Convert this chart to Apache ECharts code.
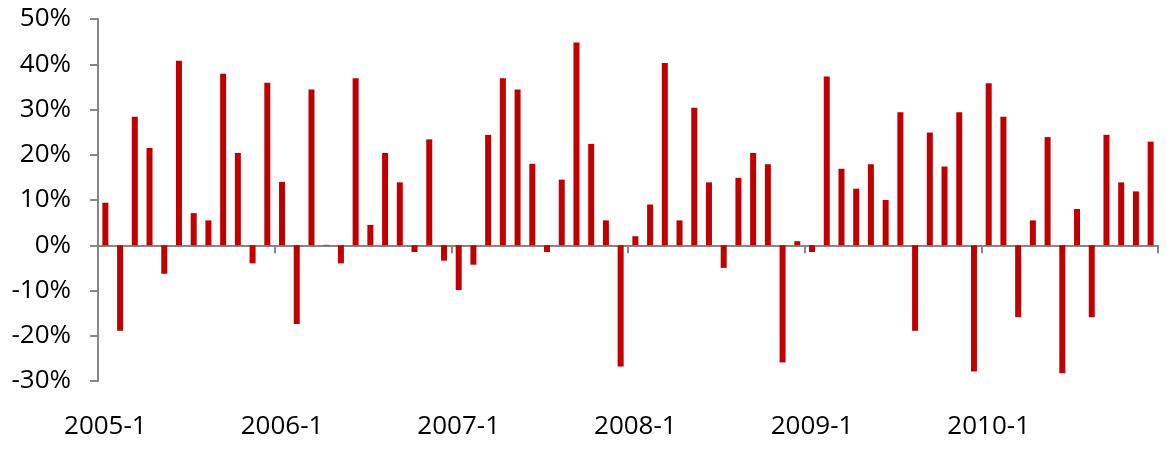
<!DOCTYPE html>
<html>
<head>
<meta charset="utf-8">
<script src="https://cdn.jsdelivr.net/npm/echarts@6/dist/echarts.min.js"></script>
<style>
  html, body { margin: 0; padding: 0; background: #fff; }
  #main { width: 1167px; height: 453px; }
</style>
</head>
<body>
<div id="main"></div>
<script>
// months 2005-1 .. 2010-12
var years = [2005, 2006, 2007, 2008, 2009, 2010];
var months = [];
years.forEach(function (y) {
  for (var m = 1; m <= 12; m++) months.push(y + '-' + m);
});

// monthly change, %
var v2005 = [9.4, -18.9, 28.4, 21.5, -6.3, 40.8, 7.1, 5.5, 37.9, 20.4, -4.0, 35.9];
var v2006 = [14.0, -17.4, 34.4, 0.1, -4.0, 36.9, 4.5, 20.4, 13.9, -1.5, 23.4, -3.4];
var v2007 = [-9.9, -4.3, 24.4, 36.9, 34.4, 18.0, -1.5, 14.5, 44.8, 22.4, 5.5, -26.8];
var v2008 = [2.0, 9.0, 40.3, 5.5, 30.4, 13.9, -5.0, 14.9, 20.4, 17.9, -25.9, 0.9];
var v2009 = [-1.5, 37.3, 16.9, 12.5, 17.9, 10.0, 29.4, -18.9, 24.9, 17.4, 29.4, -27.9];
var v2010 = [35.8, 28.4, -15.9, 5.5, 23.9, -28.3, 8.0, -15.9, 24.4, 13.9, 11.9, 22.9];
var values = [].concat(v2005, v2006, v2007, v2008, v2009, v2010);

var axisGray = '#868686';
var font = '"Open Sans", "DejaVu Sans", sans-serif';

var chart = echarts.init(document.getElementById('main'));
chart.setOption({
  animation: false,
  grid: { left: 98, right: 9, top: 19, bottom: 72, containLabel: false, outerBoundsMode: 'none' },
  xAxis: {
    type: 'category',
    data: months,
    boundaryGap: true,
    axisLine: { onZero: true, lineStyle: { color: axisGray, width: 2 } },
    axisTick: { show: true, interval: 11, length: 8, lineStyle: { color: axisGray, width: 2 } },
    axisLabel: {
      interval: 11,
      margin: 33,
      color: '#000',
      fontSize: 26,
      fontFamily: font
    },
    splitLine: { show: false }
  },
  yAxis: {
    type: 'value',
    min: -30,
    max: 50,
    interval: 10,
    axisLine: { show: true, lineStyle: { color: axisGray, width: 2 } },
    axisTick: { show: true, length: 8, lineStyle: { color: axisGray, width: 2 } },
    axisLabel: {
      margin: 27,
      color: '#000',
      fontSize: 26,
      fontFamily: font,
      formatter: '{value}%'
    },
    splitLine: { show: false }
  },
  series: [{
    type: 'bar',
    data: values,
    barWidth: 6,
    itemStyle: { color: '#C00000' }
  }]
});
</script>
</body>
</html>
